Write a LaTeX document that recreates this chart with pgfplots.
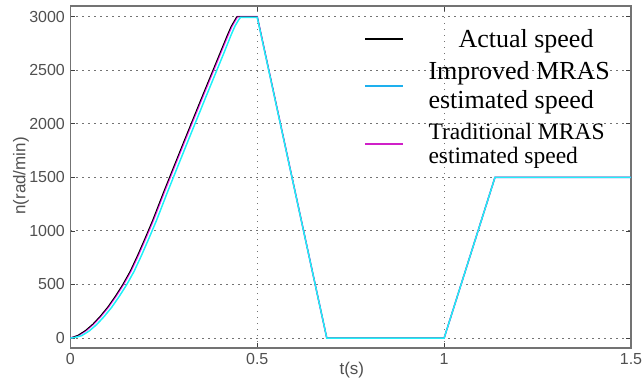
\documentclass[border=0pt]{standalone}
\usepackage{fontspec}
\setmainfont{Liberation Serif}
\setsansfont{Liberation Sans}
\usepackage{pgfplots}
\pgfplotsset{compat=1.18}
\definecolor{tickgray}{HTML}{505050}
\definecolor{legblue}{HTML}{1EB0EE}
\definecolor{legmag}{HTML}{D020C8}
\definecolor{plotcyan}{HTML}{20F0F8}
\definecolor{plotmag}{HTML}{F020F0}
\begin{document}
\begin{tikzpicture}
\path[use as bounding box] (-70.4pt,-33pt) rectangle (571.6pt,348pt);
\begin{axis}[
  at={(0,0)}, anchor=south west,
  scale only axis, width=560.6pt, height=342pt,
  xmin=0, xmax=1.5, ymin=-93, ymax=3100,
  xtick={0,0.5,1,1.5}, xticklabels={0,0.5,1,1.5},
  ytick={0,500,1000,1500,2000,2500,3000},
  scaled ticks=false,
  /pgf/number format/1000 sep={},
  /pgf/number format/assume math mode=true,
  ticklabel style={font=\sffamily\fontsize{16}{16}\selectfont, text=tickgray},
  yticklabel style={xshift=-2pt},
  xticklabel style={yshift=-1.5pt},
  grid=major,
  major grid style={dash pattern=on 1.2pt off 4.8pt, color=black!55, line width=0.9pt},
  axis line style={line width=1.3pt, color=black!55},
  tick style={color=black!75, line width=0.8pt},
  major tick length=5pt,
  xlabel={t(s)},
  ylabel={n(rad/min)},
  label style={font=\sffamily\fontsize{17}{17}\selectfont, text=tickgray},
  xlabel style={at={(axis description cs:0.502,0)}, anchor=center, yshift=-22pt},
  ylabel style={at={(axis description cs:-0.088,0.503)}, anchor=center},
  legend style={draw=none, fill=none, at={(1,1)}, anchor=north east, xshift=-16pt, yshift=-19pt,
    font=\fontsize{26}{29}\selectfont, row sep=9pt, column sep=0pt,
    cells={anchor=west, align=left},
    /tikz/every odd column/.append style={column sep=22pt}},
  legend image code/.code={\draw[#1] (0pt,0pt) -- (38pt,0pt);},
]
\addplot[plotmag, line width=1.5pt, forget plot] coordinates {
(0,0) (0.022,25) (0.042,70) (0.062,130) (0.082,205) (0.102,290) (0.122,390) (0.142,500)
(0.162,625) (0.182,775) (0.202,935) (0.222,1100) (0.252,1370) (0.302,1805) (0.352,2235) (0.402,2660)
(0.422,2830) (0.432,2910) (0.442,2970) (0.447,3000) (0.5,3000) (0.686,0) (1.0,0) (1.136,1500) (1.5,1500)};
\addplot[black, line width=0.9pt, forget plot] coordinates {
(0,0) (0.02,25) (0.04,70) (0.06,130) (0.08,205) (0.10,290) (0.12,390) (0.14,500)
(0.16,625) (0.18,775) (0.20,935) (0.22,1100) (0.25,1370) (0.30,1805) (0.35,2235) (0.40,2660)
(0.42,2830) (0.43,2910) (0.44,2970) (0.445,3000) (0.5,3000) (0.686,0) (1.0,0) (1.136,1500) (1.5,1500)};
\addplot[plotcyan, line width=1.5pt, forget plot] coordinates {
(0,0) (0.01,4) (0.03,22) (0.05,65) (0.07,125) (0.09,200) (0.11,285) (0.13,385) (0.15,495)
(0.17,620) (0.19,770) (0.21,930) (0.23,1095) (0.26,1365) (0.31,1800) (0.36,2230) (0.41,2655)
(0.43,2830) (0.44,2910) (0.45,2970) (0.455,2993) (0.5,2993) (0.686,0) (1.0,0) (1.136,1500) (1.5,1500)};
\addlegendimage{black, line width=2.6pt}
\addlegendentry{\hspace{30pt}Actual speed}
\addlegendimage{legblue, line width=2.6pt}
\addlegendentry{Improved MRAS\\estimated speed}
\addlegendimage{legmag, line width=2.6pt}
\addlegendentry[font=\fontsize{23.5}{24}\selectfont]{Traditional MRAS\\estimated speed}
\end{axis}
\end{tikzpicture}
\end{document}
